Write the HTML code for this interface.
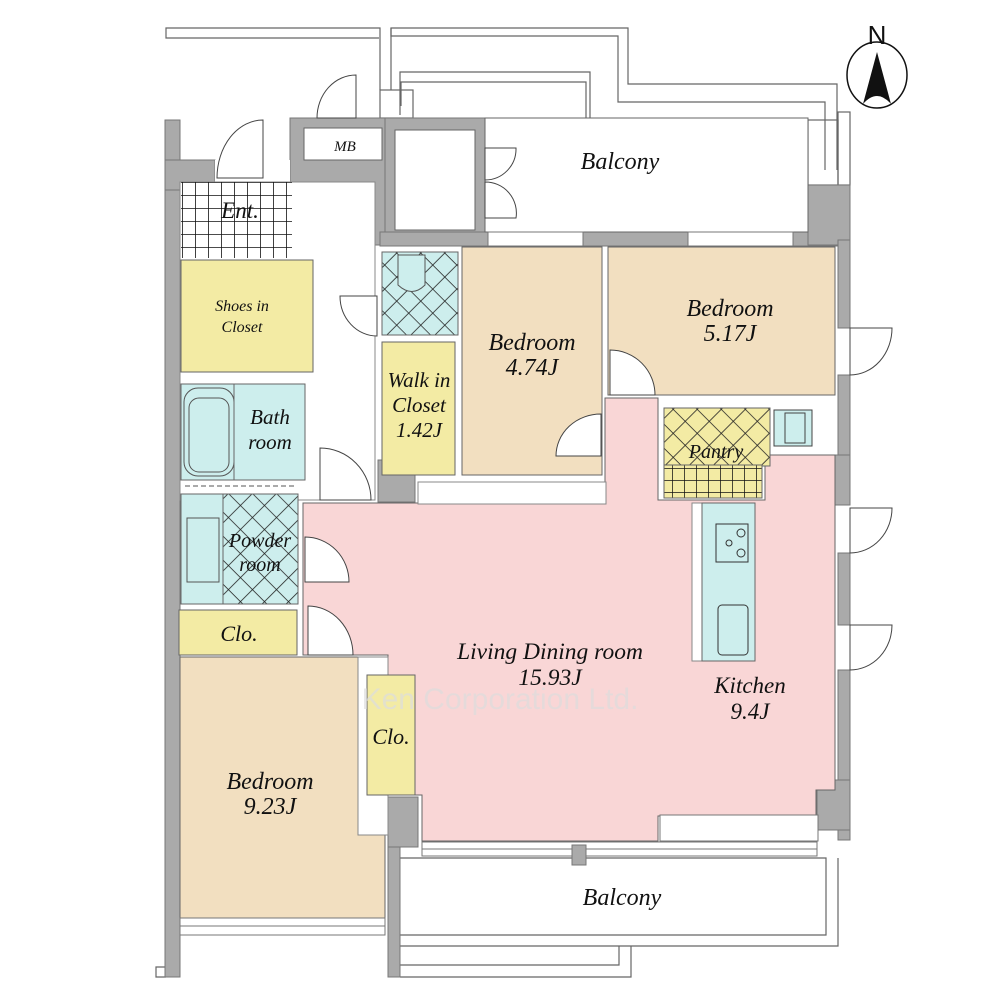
<!DOCTYPE html>
<html><head><meta charset="utf-8"><style>
html,body{margin:0;padding:0;background:#fff;width:1000px;height:1000px;overflow:hidden}
svg{display:block}
text{font-family:"Liberation Serif",serif;font-style:italic;fill:#111}
</style></head><body>
<svg width="1000" height="1000" viewBox="0 0 1000 1000" xmlns="http://www.w3.org/2000/svg">
<defs>
<pattern id="xh" width="17" height="17" patternUnits="userSpaceOnUse" patternTransform="rotate(45)">
<rect width="17" height="17" fill="#cdeeed"/><path d="M0 0H17M0 0V17" stroke="#222" stroke-width="1.6"/></pattern>
<pattern id="xy" width="17" height="17" patternUnits="userSpaceOnUse" patternTransform="rotate(45)">
<rect width="17" height="17" fill="#f3eba4"/><path d="M0 0H17M0 0V17" stroke="#222" stroke-width="1.6"/></pattern>
<pattern id="gw" width="13" height="13" patternUnits="userSpaceOnUse">
<rect width="13" height="13" fill="#fff"/><path d="M0 0H13M0 0V13" stroke="#111" stroke-width="1.6"/></pattern>
<pattern id="gy" width="12" height="12" patternUnits="userSpaceOnUse">
<rect width="12" height="12" fill="#f3eba4"/><path d="M0 0H12M0 0V12" stroke="#111" stroke-width="1.5"/></pattern>
</defs>
<g fill="none" stroke="#666" stroke-width="1.2">
<polyline points="380,90 380,28 166,28 166,38 379,38"/>
<polyline points="391,90 391,28 628,28 628,84 837,84 837,170"/>
<polyline points="391,28 391,36 618,36 618,102 825,102 825,170"/>
<polyline points="400,115 400,72 590,72 590,126 805,126 805,222"/>
<polyline points="401,106 401,82 586,82 586,130"/>
<rect x="380" y="90" width="33" height="28"/>
<rect x="808" y="120" width="30" height="65"/><rect x="838" y="112" width="12" height="73"/>
<polyline points="400,858 826,858 826,935 400,935"/>
<polyline points="400,946 838,946 838,858"/>
<polyline points="400,965 619,965 619,946"/>
<polyline points="400,977 631,977 631,946"/>
<polyline points="166,977 156,977 156,967 166,967"/>
</g>
<g fill="#aaa" stroke="#777" stroke-width="1">
<rect x="165" y="120" width="15" height="857"/>
<path d="M165 160H215V182H180V190H165Z"/>
<path d="M290 118H385V245H305V182H290Z"/>
<path d="M385 118H485V245H385Z"/>
<rect x="380" y="232" width="460" height="14"/>
<rect x="808" y="185" width="42" height="60"/>
<rect x="838" y="240" width="12" height="88"/>
<rect x="838" y="375" width="12" height="130"/>
<rect x="818" y="455" width="32" height="50"/>
<rect x="838" y="553" width="12" height="72"/>
<rect x="838" y="670" width="12" height="170"/>
<rect x="817" y="780" width="33" height="50"/>
<rect x="388" y="797" width="12" height="180"/>
<rect x="388" y="797" width="30" height="50"/>
<rect x="378" y="460" width="37" height="42"/>
</g>
<rect x="304" y="128" width="78" height="32" fill="#fff" stroke="#666"/>
<rect x="395" y="130" width="80" height="100" fill="#fff" stroke="#666"/>
<rect x="485" y="118" width="323" height="114" fill="#fff" stroke="#666"/>
<rect x="215" y="160" width="75" height="22" fill="#fff"/>
<rect x="180" y="182" width="195" height="318" fill="#fff" stroke="#888"/>
<rect x="181" y="182" width="111" height="76" fill="url(#gw)"/>
<rect x="181" y="260" width="132" height="112" fill="#f3eba4" stroke="#666"/>
<rect x="181" y="384" width="124" height="96" fill="#cdeeed" stroke="#666"/>
<rect x="184" y="388" width="50" height="88" rx="14" fill="none" stroke="#555"/>
<rect x="189" y="398" width="40" height="74" rx="10" fill="none" stroke="#555"/>
<line x1="234" y1="384" x2="234" y2="480" stroke="#666"/>
<line x1="185" y1="486" x2="295" y2="486" stroke="#555" stroke-dasharray="5,3"/>
<rect x="181" y="494" width="117" height="110" fill="url(#xh)" stroke="#666"/>
<rect x="181" y="494" width="42" height="110" fill="#cdeeed" stroke="#666"/>
<rect x="187" y="518" width="32" height="64" fill="none" stroke="#555"/>
<rect x="179" y="610" width="118" height="45" fill="#f3eba4" stroke="#666"/>
<rect x="382" y="252" width="76" height="83" fill="url(#xh)" stroke="#666"/>
<path d="M398 255H425V285Q412 298 398 285Z" fill="#cdeeed" stroke="#555"/>
<rect x="382" y="342" width="73" height="133" fill="#f3eba4" stroke="#666"/>
<rect x="462" y="247" width="140" height="228" fill="#f2dfc0" stroke="#666"/>
<rect x="608" y="247" width="227" height="148" fill="#f2dfc0" stroke="#666"/>
<path d="M303 503H605V398H658V500H765V455H835V790H816V816H658V841H422V795H388V655H303Z" fill="#f9d6d6" stroke="#666"/>
<rect x="418" y="482" width="188" height="22" fill="#fff" stroke="#888"/>
<rect x="664" y="408" width="106" height="58" fill="url(#xy)" stroke="#666"/>
<rect x="664" y="465" width="98" height="33" fill="url(#gy)" stroke="#666"/>
<rect x="774" y="410" width="38" height="36" fill="#cdeeed" stroke="#444"/>
<rect x="785" y="413" width="20" height="30" fill="none" stroke="#444"/>
<rect x="692" y="503" width="10" height="158" fill="#fff" stroke="#888"/>
<rect x="702" y="503" width="53" height="158" fill="#cdeeed" stroke="#666"/>
<rect x="716" y="524" width="32" height="38" fill="none" stroke="#333"/>
<circle cx="741" cy="533" r="4" fill="none" stroke="#333"/><circle cx="729" cy="543" r="3" fill="none" stroke="#333"/><circle cx="741" cy="553" r="4" fill="none" stroke="#333"/>
<rect x="718" y="605" width="30" height="50" rx="4" fill="none" stroke="#333"/>
<path d="M180 657H358V835H385V918H180Z" fill="#f2dfc0" stroke="#666"/>
<rect x="358" y="657" width="30" height="178" fill="#fff" stroke="#888"/>
<rect x="367" y="675" width="48" height="120" fill="#f3eba4" stroke="#666"/>
<rect x="180" y="918" width="205" height="17" fill="#fff" stroke="#777"/>
<line x1="180" y1="926" x2="385" y2="926" stroke="#777"/>
<g stroke="#777" fill="#fff">
<rect x="422" y="842" width="395" height="14"/>
<line x1="422" y1="849" x2="817" y2="849"/>
<rect x="488" y="232" width="95" height="14"/><rect x="688" y="232" width="105" height="14"/>
<rect x="660" y="815" width="158" height="26"/>
</g>
<rect x="572" y="845" width="14" height="20" fill="#aaa" stroke="#777"/>
<g fill="#fff" stroke="#444" stroke-width="1">
<path d="M263 120V178H217A46 58 0 0 1 263 120Z"/>
<path d="M356 75V118H317A39 43 0 0 1 356 75Z"/>
<path d="M340 296H377V336A37 40 0 0 1 340 296Z"/>
<path d="M320 448V500H371A51 52 0 0 0 320 448Z"/>
<path d="M305 537V582H349A44 45 0 0 0 305 537Z"/>
<path d="M308 606V655H353A45 49 0 0 0 308 606Z"/>
<path d="M601 414V456H556A45 42 0 0 1 601 414Z"/>
<path d="M610 350V395H655A45 45 0 0 0 610 350Z"/>
<path d="M485 148H516A31 31 0 0 1 485 180Z"/>
<path d="M485 218H516A31 31 0 0 0 485 182Z"/>
<path d="M850 328H892A42 47 0 0 1 850 375Z"/>
<path d="M850 508H892A42 45 0 0 1 850 553Z"/>
<path d="M850 625H892A42 45 0 0 1 850 670Z"/>
</g>
<ellipse cx="877" cy="75" rx="30" ry="33" fill="#fff" stroke="#111" stroke-width="1.5"/>
<path d="M877 52L863 104Q877 88 891 104Z" fill="#111"/>
<text x="877" y="44" font-size="26" text-anchor="middle" style="font-family:'Liberation Sans',sans-serif;font-style:normal">N</text>
<g text-anchor="middle">
<text x="620" y="169" font-size="24">Balcony</text>
<text x="345" y="151" font-size="15">MB</text>
<text x="240" y="218" font-size="23">Ent.</text>
<text x="242" y="311" font-size="16">Shoes in</text><text x="242" y="332" font-size="16">Closet</text>
<text x="270" y="424" font-size="21">Bath</text><text x="270" y="449" font-size="21">room</text>
<text x="260" y="547" font-size="20">Powder</text><text x="260" y="571" font-size="20">room</text>
<text x="239" y="641" font-size="22">Clo.</text>
<text x="419" y="387" font-size="21">Walk in</text><text x="419" y="412" font-size="21">Closet</text><text x="419" y="437" font-size="21">1.42J</text>
<text x="532" y="350" font-size="24">Bedroom</text><text x="532" y="375" font-size="24">4.74J</text>
<text x="730" y="316" font-size="24">Bedroom</text><text x="730" y="341" font-size="24">5.17J</text>
<text x="716" y="458" font-size="20">Pantry</text>
<text x="550" y="659" font-size="23.5">Living Dining room</text><text x="550" y="685" font-size="23.5">15.93J</text>
<text x="750" y="693" font-size="23">Kitchen</text><text x="750" y="719" font-size="23">9.4J</text>
<text x="391" y="744" font-size="22">Clo.</text>
<text x="270" y="789" font-size="24">Bedroom</text><text x="270" y="814" font-size="24">9.23J</text>
<text x="622" y="905" font-size="24">Balcony</text>
<text x="500" y="709" font-size="30" style="font-family:'Liberation Sans',sans-serif;font-style:normal;fill:#ddd;opacity:0.7">Ken Corporation Ltd.</text>
</g>
</svg>
</body></html>
